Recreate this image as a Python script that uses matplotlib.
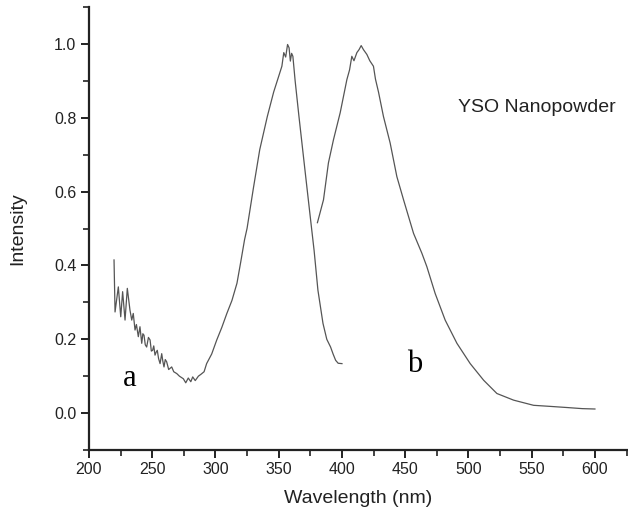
import numpy as np
import matplotlib.pyplot as plt
from matplotlib.ticker import MultipleLocator

# ============================================================
# 데이터
# ============================================================
# curve a : excitation
wl_a = [219.8, 220.6, 223.2, 225.1, 226.6, 228.5, 230.3, 232.4, 233.8, 235.0,
        236.4, 237.5, 239.0, 240.3, 241.7, 242.6, 243.5, 244.5, 245.6, 247.0,
        248.3, 249.3, 250.3, 251.2, 252.2, 253.1, 254.0, 255.0, 256.2, 257.5,
        258.4, 259.3, 260.3, 261.4, 263.0, 265.4, 267.0, 269.4, 271.5, 274.6,
        276.5, 278.5, 280.5, 282.0, 284.0, 286.5, 288.5, 291.0, 293.0, 297.0,
        301.0, 305.0, 309.0, 313.0, 317.0, 320.0, 323.0, 325.0, 330.0, 335.0,
        341.0, 346.0, 350.0, 352.5, 354.0, 355.5, 357.0, 358.2, 359.2, 360.2,
        361.2, 363.0, 366.0, 371.0, 375.0, 378.0, 381.0, 385.0, 388.0, 391.0,
        393.0, 395.0, 397.0, 400.0]
int_a = [0.415, 0.274, 0.342, 0.261, 0.329, 0.252, 0.338, 0.279, 0.252, 0.270,
         0.225, 0.240, 0.207, 0.234, 0.189, 0.215, 0.211, 0.185, 0.179, 0.205,
         0.198, 0.168, 0.170, 0.182, 0.157, 0.165, 0.170, 0.148, 0.134, 0.161,
         0.140, 0.125, 0.145, 0.139, 0.118, 0.125, 0.112, 0.107, 0.100, 0.093,
         0.082, 0.095, 0.085, 0.098, 0.088, 0.100, 0.105, 0.112, 0.134, 0.160,
         0.198, 0.232, 0.270, 0.305, 0.352, 0.410, 0.470, 0.501, 0.610, 0.714,
         0.804, 0.870, 0.913, 0.940, 0.977, 0.965, 0.999, 0.990, 0.954, 0.975,
         0.967, 0.900, 0.804, 0.651, 0.530, 0.440, 0.333, 0.243, 0.200, 0.179,
         0.160, 0.143, 0.135, 0.134]

# curve b : emission
wl_b = [380.6, 385.4, 389.3, 393.3, 398.6, 403.9, 406.0, 407.8, 409.5, 411.8,
        413.5, 415.2, 417.0, 419.7, 422.0, 424.9, 426.5, 428.9, 432.8, 438.1,
        443.4, 448.7, 456.6, 463.2, 467.1, 473.7, 481.6, 490.9, 501.4, 512.0,
        522.5, 535.7, 551.5, 565.0, 577.9, 590.0, 600.0]
int_b = [0.516, 0.578, 0.678, 0.741, 0.814, 0.904, 0.930, 0.967, 0.955, 0.977,
         0.985, 0.996, 0.985, 0.972, 0.955, 0.940, 0.905, 0.870, 0.804, 0.732,
         0.641, 0.578, 0.487, 0.433, 0.397, 0.324, 0.252, 0.189, 0.134, 0.089,
         0.053, 0.035, 0.021, 0.018, 0.015, 0.012, 0.011]

# ============================================================
# 그림
# ============================================================
plt.rcParams['font.family'] = ['Liberation Sans', 'DejaVu Sans']

fig = plt.figure(figsize=(6.28, 5.16), dpi=100)
ax = fig.add_axes([0.1417, 0.128, 0.858, 0.858])

ax.plot(wl_a, int_a, color='#555555', lw=0.9)
ax.plot(wl_b, int_b, color='#555555', lw=0.9)

ax.set_xlim(200, 626)
ax.set_ylim(-0.1, 1.1)

ax.xaxis.set_major_locator(MultipleLocator(50))
ax.xaxis.set_minor_locator(MultipleLocator(25))
ax.yaxis.set_major_locator(MultipleLocator(0.2))
ax.yaxis.set_minor_locator(MultipleLocator(0.1))
ax.yaxis.set_major_formatter(plt.FuncFormatter(lambda v, p: f"{v:.1f}"))

ax.spines['top'].set_visible(False)
ax.spines['right'].set_visible(False)
for s in ['left', 'bottom']:
    ax.spines[s].set_linewidth(1.6)
    ax.spines[s].set_color('#222222')

ax.tick_params(which='major', direction='out', length=6, width=1.4,
               labelsize=11.5, colors='#222222', pad=3)
ax.tick_params(which='minor', direction='out', length=4, width=1.2,
               colors='#222222')

ax.set_xlabel("Wavelength (nm)", fontsize=14, labelpad=9, color='#222222')
ax.set_ylabel("Intensity", fontsize=14, labelpad=20, color='#222222')

ax.text(232.4, 0.094, "a", family='Liberation Serif', fontsize=22,
        ha='center', va='center')
ax.text(457.1, 0.131, "b", family='Liberation Serif', fontsize=22,
        ha='center', va='center')
ax.text(0.729, 0.792, "YSO Nanopowder", transform=fig.transFigure,
        fontsize=14, va='center', ha='left', color='#222222')

fig.savefig("out.png", dpi=100)
